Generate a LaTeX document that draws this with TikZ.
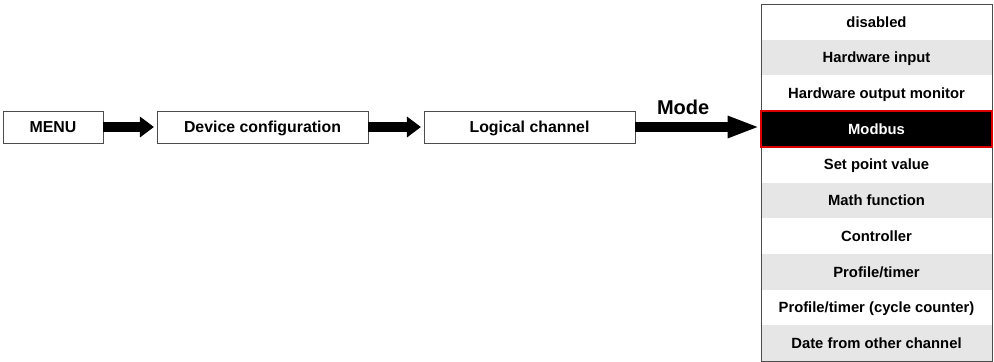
\documentclass[tikz,border=0pt]{standalone}
\usepackage{fontspec}
\setmainfont{Liberation Sans}
\usetikzlibrary{arrows.meta}
\definecolor{rowgray}{HTML}{E6E6E6}
\begin{document}
\begin{tikzpicture}[x=0.75pt, y=-0.75pt]
        \tikzstyle{menu_box} = [shape = rectangle, draw = black!70, line width=0.6pt, minimum height=24pt, inner sep=0pt, text height=8.5pt, text depth=0pt, font=\fontsize{11.9}{13}\selectfont\bfseries]
        \tikzstyle{mode_row} = [shape = rectangle, minimum width=173.25pt, minimum height=26.78pt, inner sep=0pt, outer sep=0pt, text height=8pt, text depth=0pt, font=\fontsize{11.1}{12}\selectfont\bfseries]
        \tikzstyle{fat_arrow} = [line width=7.5pt, -{Triangle[length=10.5pt, width=15pt]}, shorten >=2pt]

        \useasboundingbox (0,0) rectangle (994,361);

        \node[menu_box, minimum width=75pt] at (53, 127) (menu) {MENU};

        \node[menu_box, minimum width=158.25pt] at (262.5, 127) (device) {Device configuration};

        \node[menu_box, minimum width=158.25pt] at (529.5, 127) (logic) {Logical channel};

        \foreach \i/\txt/\fl/\tc in {1/disabled/white/black,
                                     2/Hardware input/rowgray/black,
                                     3/Hardware output monitor/white/black,
                                     4/Modbus/black/white,
                                     5/Set point value/white/black,
                                     6/Math function/rowgray/black,
                                     7/Controller/white/black,
                                     8/Profile\slash timer/rowgray/black,
                                     9/Profile\slash timer (cycle counter)/white/black,
                                     10/Date from other channel/rowgray/black}
          \node[mode_row, fill=\fl, text=\tc] at (876.5, {4+35.7*(\i-0.5)}) (r\i) {\txt};

        \draw[black!70, line width=0.6pt] (r1.north west) rectangle (r10.south east);
        \draw[red!85!black, line width=1.1pt] (r4.north west) rectangle (r4.south east);

        \draw[fat_arrow]
          (menu) edge (device)
          (device) edge (logic)
        ;

        \draw[line width=7.5pt, -{Triangle[length=24pt, width=15pt]}, shorten >=1pt]
          (logic.east) -- node[above=2pt, pos=0.38, font=\fontsize{15}{17}\selectfont\bfseries] {Mode} (r4.west |- logic.east)
        ;
      \end{tikzpicture}
\end{document}
